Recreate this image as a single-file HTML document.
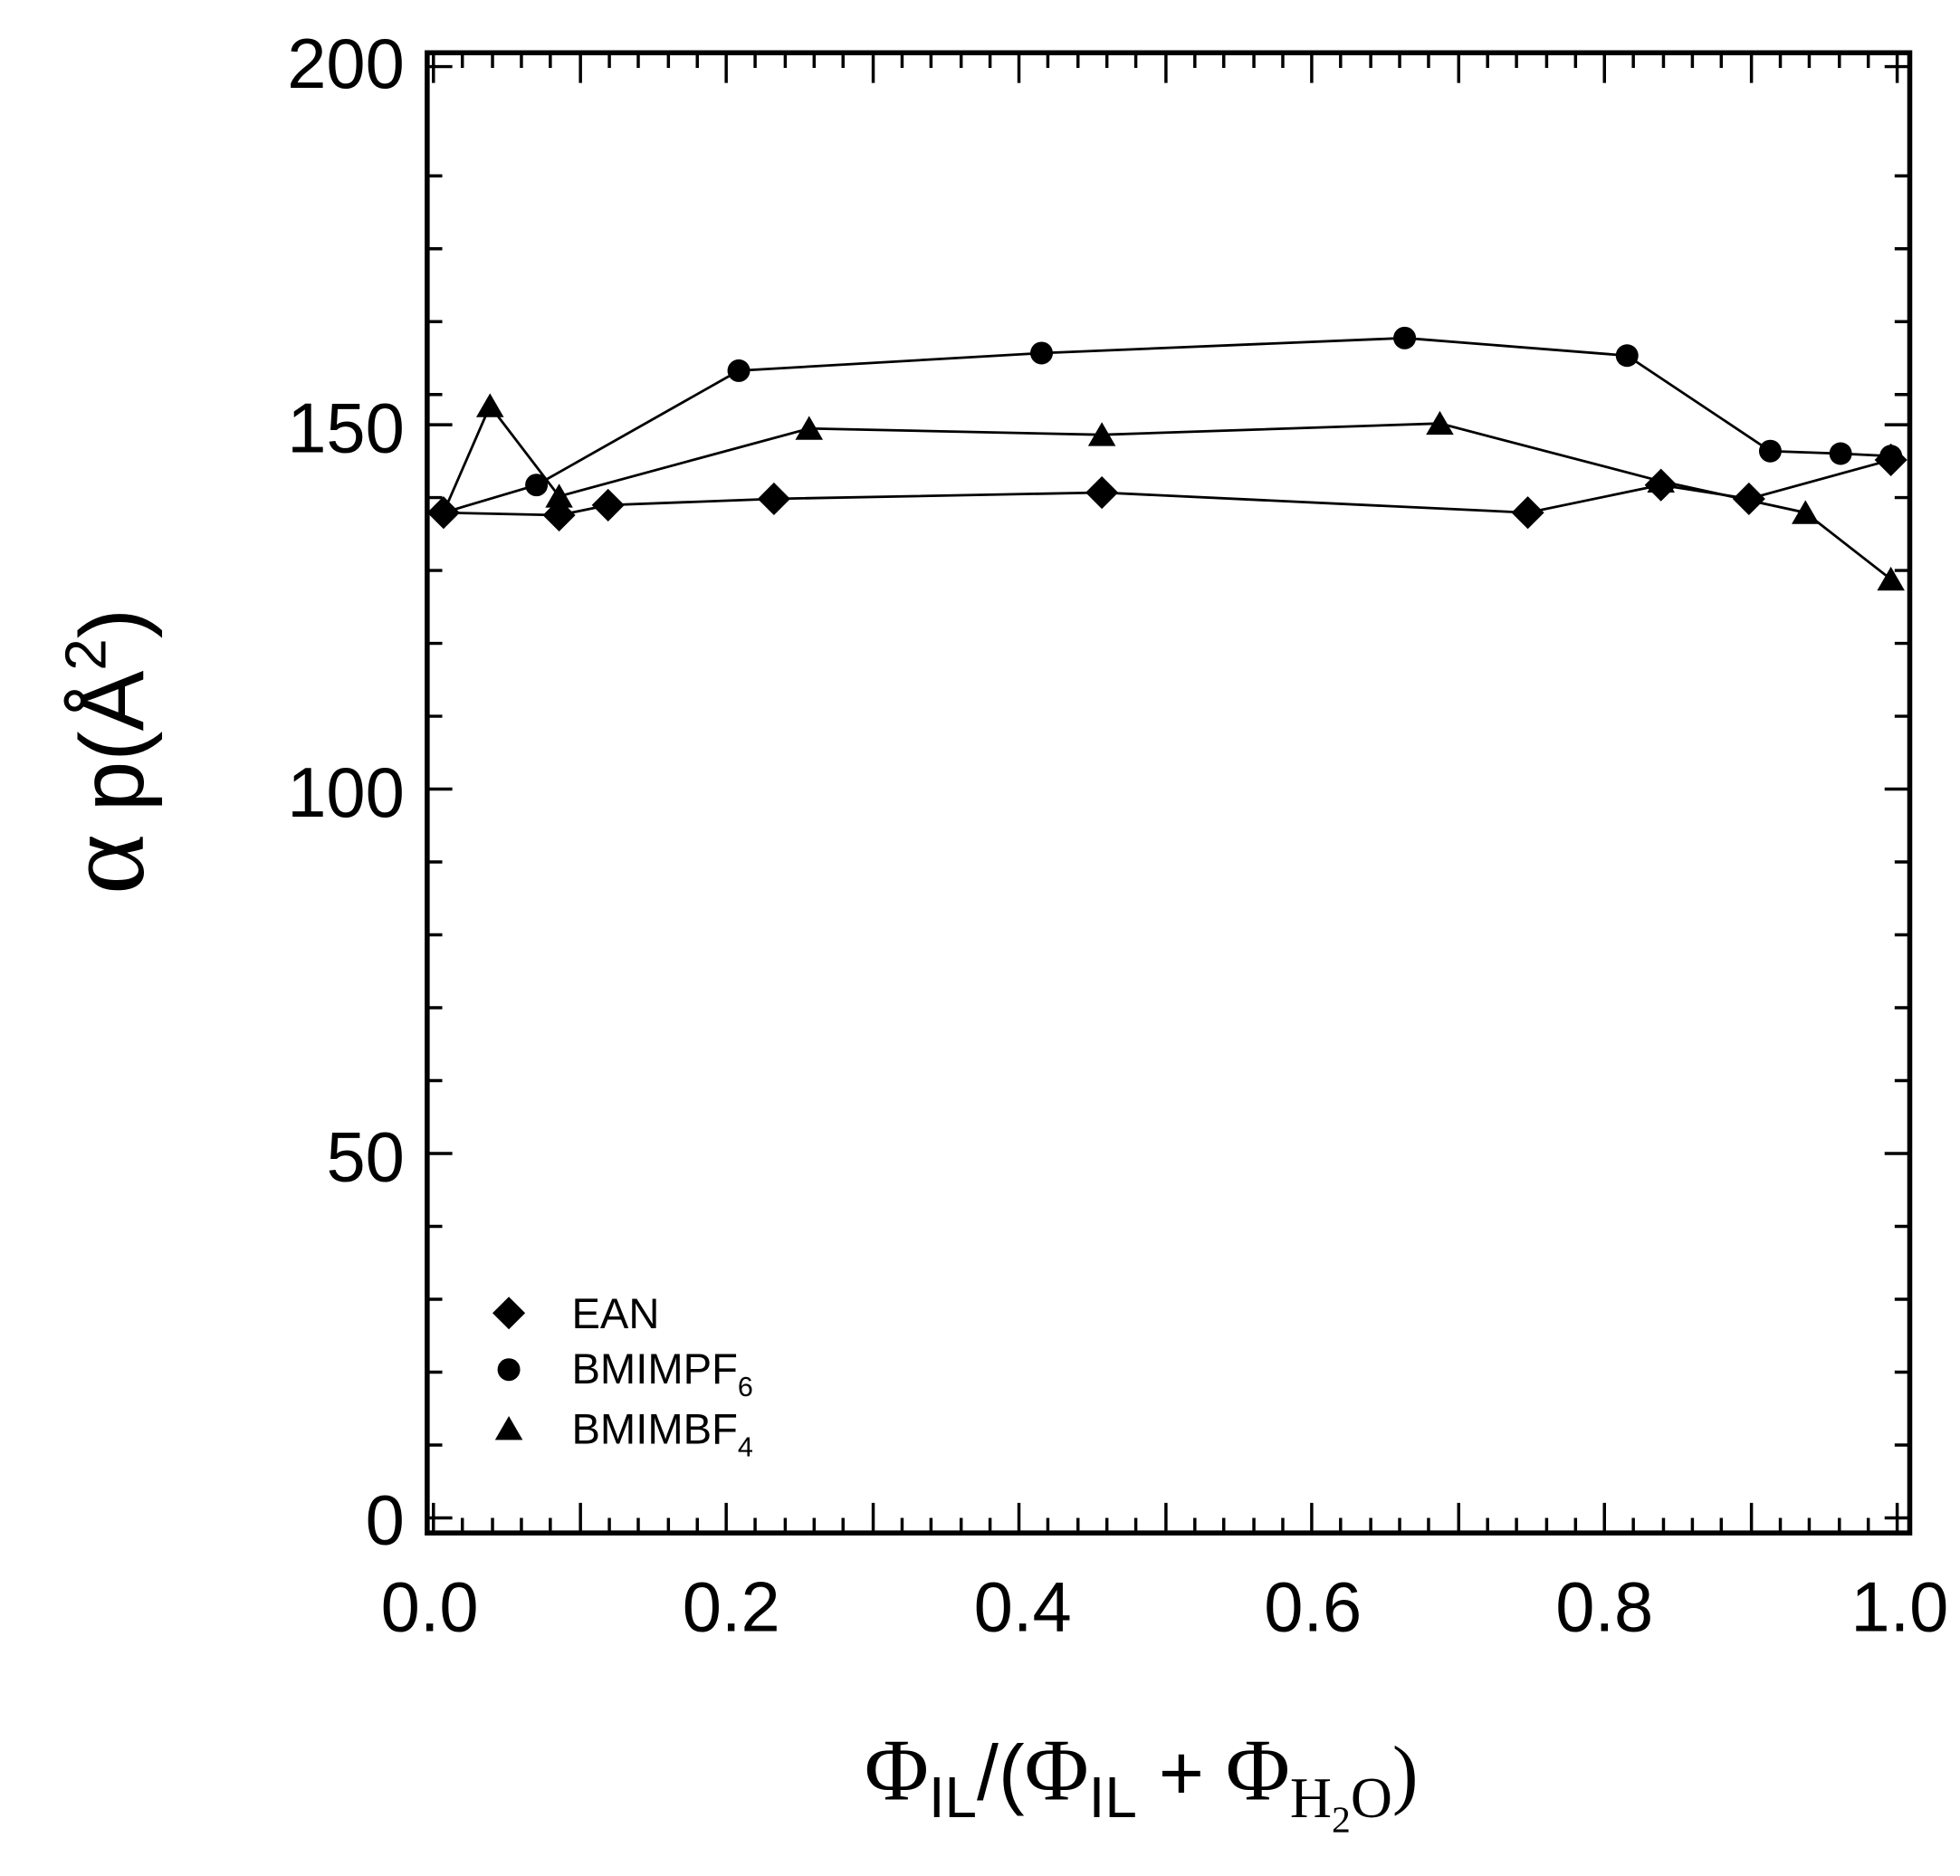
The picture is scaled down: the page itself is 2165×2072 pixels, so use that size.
<!DOCTYPE html>
<html><head><meta charset="utf-8"><style>html,body{margin:0;padding:0;background:#fff}svg{display:block}</style></head>
<body>
<svg width="2165" height="2072" viewBox="0 0 1560 1493" preserveAspectRatio="none" xmlns="http://www.w3.org/2000/svg">
<rect width="1560" height="1493" fill="#fff"/>
<g stroke="#000" stroke-width="2.5" fill="none">
<path d="M340 53 h20 M340 140 h12 M340 198 h12 M340 256 h12 M340 314 h12 M340 338 h20 M340 396 h12 M340 454 h12 M340 512 h12 M340 570 h12 M340 628 h20 M340 686 h12 M340 744 h12 M340 802 h12 M340 860 h12 M340 918 h20 M340 976 h12 M340 1034 h12 M340 1092 h12 M340 1150 h12 M340 1208 h20"/>
<path d="M1520 53 h-20 M1520 140 h-12 M1520 198 h-12 M1520 256 h-12 M1520 314 h-12 M1520 338 h-20 M1520 396 h-12 M1520 454 h-12 M1520 512 h-12 M1520 570 h-12 M1520 628 h-20 M1520 686 h-12 M1520 744 h-12 M1520 802 h-12 M1520 860 h-12 M1520 918 h-20 M1520 976 h-12 M1520 1034 h-12 M1520 1092 h-12 M1520 1150 h-12 M1520 1208 h-20"/>
<path d="M345 42 v24 M368 42 v12 M392 42 v12 M415 42 v12 M438 42 v12 M462 42 v24 M485 42 v12 M508 42 v12 M532 42 v12 M555 42 v12 M578 42 v24 M601 42 v12 M625 42 v12 M648 42 v12 M671 42 v12 M695 42 v24 M718 42 v12 M741 42 v12 M765 42 v12 M788 42 v12 M811 42 v24 M834 42 v12 M858 42 v12 M881 42 v12 M904 42 v12 M928 42 v24 M951 42 v12 M974 42 v12 M998 42 v12 M1021 42 v12 M1044 42 v24 M1067 42 v12 M1091 42 v12 M1114 42 v12 M1137 42 v12 M1161 42 v24 M1184 42 v12 M1207 42 v12 M1231 42 v12 M1254 42 v12 M1277 42 v24 M1300 42 v12 M1324 42 v12 M1347 42 v12 M1370 42 v12 M1394 42 v24 M1417 42 v12 M1440 42 v12 M1464 42 v12 M1487 42 v12 M1510 42 v24"/>
<path d="M345 1220 v-24 M368 1220 v-12 M392 1220 v-12 M415 1220 v-12 M438 1220 v-12 M462 1220 v-24 M485 1220 v-12 M508 1220 v-12 M532 1220 v-12 M555 1220 v-12 M578 1220 v-24 M601 1220 v-12 M625 1220 v-12 M648 1220 v-12 M671 1220 v-12 M695 1220 v-24 M718 1220 v-12 M741 1220 v-12 M765 1220 v-12 M788 1220 v-12 M811 1220 v-24 M834 1220 v-12 M858 1220 v-12 M881 1220 v-12 M904 1220 v-12 M928 1220 v-24 M951 1220 v-12 M974 1220 v-12 M998 1220 v-12 M1021 1220 v-12 M1044 1220 v-24 M1067 1220 v-12 M1091 1220 v-12 M1114 1220 v-12 M1137 1220 v-12 M1161 1220 v-24 M1184 1220 v-12 M1207 1220 v-12 M1231 1220 v-12 M1254 1220 v-12 M1277 1220 v-24 M1300 1220 v-12 M1324 1220 v-12 M1347 1220 v-12 M1370 1220 v-12 M1394 1220 v-24 M1417 1220 v-12 M1440 1220 v-12 M1464 1220 v-12 M1487 1220 v-12 M1510 1220 v-24"/>
<rect x="340" y="42" width="1180" height="1178" stroke-width="4"/>
</g>
<g stroke="#000" stroke-width="2" fill="none">
<polyline points="353,408 445,410 484,402 616,397 877,392 1216,408 1322,386 1392,397 1505,366"/>
<polyline points="353,408 427,386 588,295 829,281 1118,269 1295,283 1409,359 1465,361 1505,363"/>
<polyline points="353,408 390,323 445,395 644,341 877,346 1146,337 1322,383 1437,408 1505,461"/>
</g>
<g fill="#000">
<path d="M353 395 l13 13 l-13 13 l-13 -13z"/><path d="M445 397 l13 13 l-13 13 l-13 -13z"/><path d="M484 389 l13 13 l-13 13 l-13 -13z"/><path d="M616 384 l13 13 l-13 13 l-13 -13z"/><path d="M877 379 l13 13 l-13 13 l-13 -13z"/><path d="M1216 395 l13 13 l-13 13 l-13 -13z"/><path d="M1322 373 l13 13 l-13 13 l-13 -13z"/><path d="M1392 384 l13 13 l-13 13 l-13 -13z"/><path d="M1505 353 l13 13 l-13 13 l-13 -13z"/>
<circle cx="427" cy="386" r="9"/><circle cx="588" cy="295" r="9"/><circle cx="829" cy="281" r="9"/><circle cx="1118" cy="269" r="9"/><circle cx="1295" cy="283" r="9"/><circle cx="1409" cy="359" r="9"/><circle cx="1465" cy="361" r="9"/><circle cx="1505" cy="363" r="9"/>
<path d="M390 313 l11 19 h-22z"/><path d="M445 385 l11 19 h-22z"/><path d="M644 331 l11 19 h-22z"/><path d="M877 336 l11 19 h-22z"/><path d="M1146 327 l11 19 h-22z"/><path d="M1322 373 l11 19 h-22z"/><path d="M1437 398 l11 19 h-22z"/><path d="M1505 451 l11 19 h-22z"/>
<path d="M405 1032 l13 13 l-13 13 l-13 -13z"/>
<circle cx="405" cy="1090" r="9"/>
<path d="M405 1127 l11 19 h-22z"/>
</g>
<g font-family="Liberation Sans, sans-serif" fill="#000">
<g font-size="56" text-anchor="end">
<text x="322" y="70">200</text><text x="322" y="360">150</text><text x="322" y="650">100</text><text x="322" y="940">50</text><text x="322" y="1229">0</text>
</g>
<g font-size="56" text-anchor="middle">
<text x="342" y="1298">0.0</text><text x="582" y="1298">0.2</text><text x="814" y="1298">0.4</text><text x="1045" y="1298">0.6</text><text x="1277" y="1298">0.8</text><text x="1512" y="1298">1.0</text>
</g>
<g font-size="34">
<text x="455" y="1057">EAN</text>
<text x="455" y="1101">BMIMPF<tspan font-size="22" dy="10">6</tspan></text>
<text x="455" y="1149">BMIMBF<tspan font-size="22" dy="10">4</tspan></text>
</g>
<text transform="translate(114,712) rotate(-90)" font-size="72"><tspan font-family="Liberation Serif, serif" font-size="92">α</tspan><tspan dx="18">p(Å</tspan><tspan font-size="46" dy="-30">2</tspan><tspan dy="30">)</tspan></text>
<text x="688" y="1432" font-size="62"><tspan font-family="Liberation Serif, serif" font-size="70">Φ</tspan><tspan font-size="46" dy="14">IL</tspan><tspan dy="-14">/(</tspan><tspan font-family="Liberation Serif, serif" font-size="70">Φ</tspan><tspan font-size="46" dy="14">IL</tspan><tspan dy="-14"> + </tspan><tspan font-family="Liberation Serif, serif" font-size="70">Φ</tspan><tspan font-family="Liberation Serif, serif" font-size="46" dy="14">H</tspan><tspan font-family="Liberation Serif, serif" font-size="30" dy="12">2</tspan><tspan font-family="Liberation Serif, serif" font-size="46" dy="-12">O</tspan><tspan font-family="Liberation Serif, serif" dy="-14">)</tspan></text>
</g>
</svg>
</body></html>
